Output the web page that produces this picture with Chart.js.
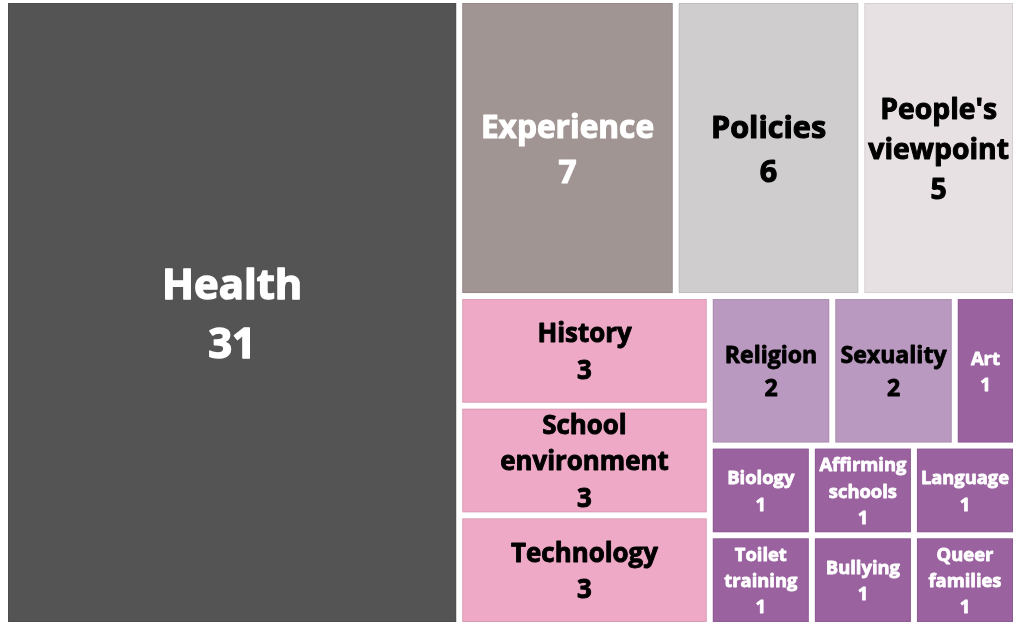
<!DOCTYPE html>
<html lang="en">
<head>
  <meta charset="UTF-8">
  <title>Topics treemap</title>
  <style>
    body {
      margin: 0;
      padding: 0;
      background-color: #fff;
    }
    canvas {
      display: block;
    }
  </style>
</head>
<body>
  <canvas id="treemapChart" width="1021" height="628"></canvas>

  <script src="https://cdn.jsdelivr.net/npm/chart.js"></script>
  <script>
    // data
    const categories = [
      'Health', 'Experience', 'Policies', "People's viewpoint",
      'History', 'School environment', 'Technology',
      'Religion', 'Sexuality', 'Art',
      'Biology', 'Toilet training', 'Affirming schools', 'Bullying', 'Language', 'Queer families'
    ];
    const counts = [31, 7, 6, 5, 3, 3, 3, 2, 2, 1, 1, 1, 1, 1, 1, 1];

    // styles
    const fillColors = [
      '#545454', '#a09593', '#d0cdcf', '#e7e1e3',
      '#eda9c5', '#eda9c5', '#eda9c5',
      '#b999bf', '#b999bf', '#9a63a0',
      '#9a63a0', '#9a63a0', '#9a63a0', '#9a63a0', '#9a63a0', '#9a63a0'
    ];
    const textColors = [
      '#ffffff', '#ffffff', '#000000', '#000000',
      '#000000', '#000000', '#000000',
      '#000000', '#000000', '#ffffff',
      '#ffffff', '#ffffff', '#ffffff', '#ffffff', '#ffffff', '#ffffff'
    ];
    const GAP = 6;
    const PHI = (1 + Math.sqrt(5)) / 2;
    const FONT = '"Open Sans", "DejaVu Sans", sans-serif';

    // squarified layout (same idea as d3.treemapSquarify), positions in scale units
    function squarify(vals, x0, y0, x1, y1, kx, ky) {
      const out = [];
      const n = vals.length;
      let value = vals.reduce((a, b) => a + b, 0);
      let i0 = 0, i1 = 0;
      while (i0 < n) {
        const dx = (x1 - x0) * kx, dy = (y1 - y0) * ky;
        let sum = vals[i1++];
        let minV = sum, maxV = sum;
        const alpha = Math.max(dy / dx, dx / dy) / (value * PHI);
        let beta = sum * sum * alpha;
        let minRatio = Math.max(maxV / beta, beta / minV);
        for (; i1 < n; ++i1) {
          const v = vals[i1];
          sum += v;
          if (v < minV) minV = v;
          if (v > maxV) maxV = v;
          beta = sum * sum * alpha;
          const r = Math.max(maxV / beta, beta / minV);
          if (r > minRatio) { sum -= v; break; }
          minRatio = r;
        }
        if (dx < dy) {
          // row across the top
          const yb = y0 + (y1 - y0) * sum / value;
          let xx = x0;
          for (let i = i0; i < i1; i++) {
            const w = (x1 - x0) * vals[i] / sum;
            out.push({ i, x0: xx, y0: y0, x1: xx + w, y1: yb });
            xx += w;
          }
          y0 = yb;
        } else {
          // column on the left
          const xb = x0 + (x1 - x0) * sum / value;
          let yy = y0;
          for (let i = i0; i < i1; i++) {
            const h = (y1 - y0) * vals[i] / sum;
            out.push({ i, x0: x0, y0: yy, x1: xb, y1: yy + h });
            yy += h;
          }
          x0 = xb;
        }
        value -= sum;
        i0 = i1;
      }
      return out;
    }

    function wrapWords(ctx, text, maxW) {
      const words = text.split(' ');
      const lines = [];
      let line = '';
      words.forEach(w => {
        const test = line ? line + ' ' + w : w;
        if (line && ctx.measureText(test).width > maxW) {
          lines.push(line);
          line = w;
        } else {
          line = test;
        }
      });
      if (line) lines.push(line);
      return lines;
    }

    const treemapPlugin = {
      id: 'treemap',
      afterDatasetsDraw(chart) {
        const { ctx, scales: { x, y } } = chart;
        const kx = Math.abs(x.getPixelForValue(1) - x.getPixelForValue(0));
        const ky = Math.abs(y.getPixelForValue(1) - y.getPixelForValue(0));
        const cells = squarify(counts, 0, 0, 1, 1, kx, ky);

        ctx.save();
        cells.forEach(c => {
          const left = x.getPixelForValue(c.x0) + GAP / 2;
          const right = x.getPixelForValue(c.x1) - GAP / 2;
          const top = y.getPixelForValue(c.y0) + GAP / 2;
          const bottom = y.getPixelForValue(c.y1) - GAP / 2;
          const w = right - left, h = bottom - top;

          ctx.fillStyle = fillColors[c.i];
          ctx.fillRect(left, top, w, h);
          ctx.strokeStyle = 'rgba(0,0,0,0.08)';
          ctx.lineWidth = 1;
          ctx.strokeRect(left + 0.5, top + 0.5, w - 1, h - 1);

          // label: name + count, font grows with the count, shrinks to fit
          let size = 1.05 * (17.5 + 6.5 * Math.log(counts[c.i]));
          const words = categories[c.i].split(' ');
          ctx.font = `bold ${size}px ${FONT}`;
          const widest = Math.max(...words.map(wd => ctx.measureText(wd).width));
          if (widest > w - 8) {
            size = size * (w - 8) / widest;
            ctx.font = `bold ${size}px ${FONT}`;
          }
          const lines = wrapWords(ctx, categories[c.i], w - 8);
          lines.push(String(counts[c.i]));
          const lh = size * 1.42;
          const cx = left + w / 2;
          const cy = top + h / 2 + size * 0.1;
          ctx.fillStyle = textColors[c.i];
          ctx.strokeStyle = textColors[c.i];
          ctx.lineWidth = Math.max(0.8, size * 0.035);
          ctx.lineJoin = 'round';
          ctx.textAlign = 'center';
          ctx.textBaseline = 'middle';
          lines.forEach((ln, k) => {
            const ty = cy + (k - (lines.length - 1) / 2) * lh;
            ctx.strokeText(ln, cx, ty);
            ctx.fillText(ln, cx, ty);
          });
        });
        ctx.restore();
      }
    };

    const ctx = document.getElementById('treemapChart').getContext('2d');
    const chart = new Chart(ctx, {
      type: 'scatter',
      data: {
        labels: categories,
        datasets: [{ label: 'Count', data: [] }]
      },
      options: {
        responsive: false,
        animation: false,
        layout: { padding: { left: 5, right: 5, top: 0, bottom: 3 } },
        scales: {
          x: { type: 'linear', min: 0, max: 1, display: false },
          y: { type: 'linear', min: 0, max: 1, reverse: true, display: false }
        },
        plugins: {
          legend: { display: false },
          tooltip: { enabled: false }
        }
      },
      plugins: [treemapPlugin]
    });
  </script>
</body>
</html>
